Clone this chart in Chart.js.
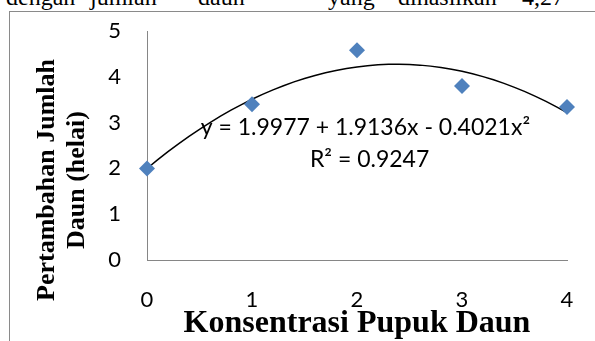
<!DOCTYPE html>
<html>
<head>
<meta charset="utf-8">
<script src="https://cdn.jsdelivr.net/npm/chart.js@4.4.0/dist/chart.umd.min.js"></script>
<style>
  body { margin: 0; width: 595px; height: 341px; overflow: hidden; background: #fff; position: relative; }
  #frame { position: absolute; left: 9px; top: 11px; width: 700px; height: 400px; border: 1px solid #8a8a8a; }
  .word { position: absolute; top: -15px; font: 24px "Liberation Serif"; line-height: 24px; white-space: nowrap; color: #000; }
  #chart { position: absolute; left: 0; top: 0; }
</style>
</head>
<body>
<!-- baris teks dokumen yang terpotong di atas grafik -->
<span class="word" style="left:6px">dengan</span>
<span class="word" style="left:90px">jumlah</span>
<span class="word" style="left:198px">daun</span>
<span class="word" style="left:328px">yang</span>
<span class="word" style="left:398px">dihasilkan</span>
<span class="word" style="left:522px">4,27</span>
<div id="frame"></div>
<canvas id="chart" width="595" height="341"></canvas>
<script>
// data dari grafik
const concentration = [0, 1, 2, 3, 4];
const leafGain = [2.0, 3.4, 4.58, 3.8, 3.34];
const xTicks = [0, 1, 2, 3, 4];
const yTicks = [0, 1, 2, 3, 4, 5];
// koefisien trendline polinomial (tertulis di grafik)
const trendCoef = [1.9977, 1.9136, -0.4021];
const equationText = 'y = 1.9977 + 1.9136x - 0.4021x²';
const r2Text = 'R² = 0.9247';
const yTitleLines = ['Pertambahan Jumlah', 'Daun (helai)'];
const xTitle = 'Konsentrasi Pupuk Daun';

// titik-titik kurva trendline
const trendPoints = [];
for (let i = 0; i <= 40; i++) {
    const x = i / 10;
    trendPoints.push({ x: x, y: trendCoef[0] + trendCoef[1] * x + trendCoef[2] * x * x });
}

const textPlugin = {
    id: 'textPlugin',
    afterDraw(chart) {
        const ctx = chart.ctx;
        const xs = chart.scales.x;
        const ys = chart.scales.y;
        ctx.save();
        ctx.fillStyle = '#000';
        ctx.textAlign = 'center';
        ctx.textBaseline = 'middle';
        ctx.font = '23px Lato';
        ctx.fillText(equationText, xs.getPixelForValue(2.08), ys.getPixelForValue(2.9));
        ctx.fillText(r2Text, xs.getPixelForValue(2.12), ys.getPixelForValue(2.2));
        // judul sumbu Y dua baris
        ctx.font = 'bold 26px "Liberation Serif"';
        ctx.translate(62, 180);
        ctx.rotate(-Math.PI / 2);
        ctx.fillText(yTitleLines[0], 0, -15);
        ctx.fillText(yTitleLines[1], 0, 15);
        ctx.restore();
    }
};

new Chart(document.getElementById('chart'), {
    type: 'scatter',
    data: {
        datasets: [{
            data: concentration.map((c, i) => ({ x: c, y: leafGain[i] })),
            pointStyle: 'rectRot',
            pointRadius: 8,
            backgroundColor: '#4f81bd',
            borderColor: '#4f81bd',
            borderWidth: 0,
            clip: false
        }, {
            data: trendPoints,
            showLine: true,
            pointRadius: 0,
            borderColor: '#000',
            borderWidth: 1.5,
            tension: 0,
            clip: false
        }]
    },
    options: {
        responsive: false,
        animation: false,
        layout: { padding: { top: 31, right: 28, left: 0, bottom: 0 } },
        plugins: { legend: { display: false }, tooltip: { enabled: false } },
        scales: {
            x: {
                type: 'linear',
                min: xTicks[0],
                max: xTicks[xTicks.length - 1],
                afterBuildTicks: s => { s.ticks = xTicks.map(v => ({ value: v })); },
                ticks: { color: '#000', font: { family: 'Lato', size: 22 }, padding: 27 },
                grid: { display: false, drawTicks: false },
                border: { color: '#868686', width: 1 },
                title: {
                    display: true, text: xTitle, color: '#000',
                    font: { family: 'Liberation Serif', size: 32, weight: 'bold', lineHeight: 1 },
                    padding: { top: 0, bottom: 1 }
                },
                afterFit: s => { s.height = 81; s.paddingLeft = 0; s.paddingRight = 0; }
            },
            y: {
                min: yTicks[0],
                max: yTicks[yTicks.length - 1],
                afterBuildTicks: s => { s.ticks = yTicks.map(v => ({ value: v })); },
                ticks: { color: '#000', font: { family: 'Lato', size: 22 }, padding: 26 },
                grid: { display: false, drawTicks: false },
                border: { color: '#868686', width: 1 },
                afterFit: s => { s.width = 147; s.paddingTop = 0; s.paddingBottom = 0; }
            }
        }
    },
    plugins: [textPlugin]
});
</script>
</body>
</html>
